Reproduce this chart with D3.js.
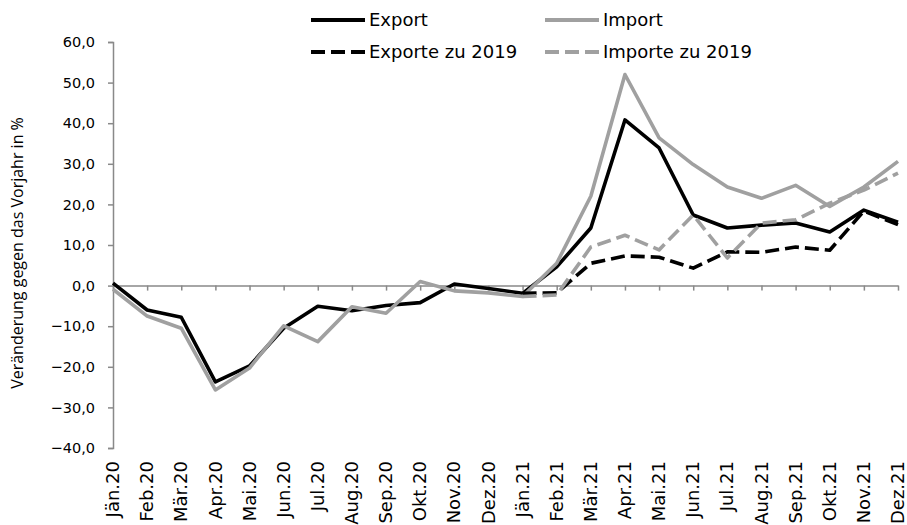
<!DOCTYPE html>
<html>
<head>
<meta charset="utf-8">
<script src="https://cdn.jsdelivr.net/npm/d3@7/dist/d3.min.js"></script>
<style>
  html, body { margin: 0; padding: 0; background: #fff; }
  svg { display: block; }
</style>
</head>
<body>
<svg id="chart" width="907" height="525"></svg>
<script>
const months = ["Jän.20","Feb.20","Mär.20","Apr.20","Mai.20","Jun.20","Jul.20","Aug.20","Sep.20","Okt.20","Nov.20","Dez.20",
                "Jän.21","Feb.21","Mär.21","Apr.21","Mai.21","Jun.21","Jul.21","Aug.21","Sep.21","Okt.21","Nov.21","Dez.21"];
const exportVals = [0.6,-6.0,-7.8,-23.7,-19.8,-10.5,-5.1,-6.2,-4.9,-4.2,0.4,-0.7,
                    -1.9,4.6,14.2,40.8,33.9,17.4,14.2,14.9,15.4,13.2,18.6,15.6];
const importVals = [-0.9,-7.5,-10.5,-25.7,-20.3,-9.9,-13.8,-5.2,-6.8,1.0,-1.3,-1.8,
                    -2.7,5.5,22.0,52.0,36.4,29.8,24.3,21.5,24.7,19.5,24.3,30.6];
const exporte2019 = [null,null,null,null,null,null,null,null,null,null,null,null,
                     -1.9,-1.8,5.5,7.3,7.0,4.3,8.3,8.2,9.5,8.7,18.4,15.0];
const importe2019 = [null,null,null,null,null,null,null,null,null,null,null,null,
                     -2.7,-2.3,9.5,12.4,8.8,17.4,6.8,15.4,16.2,20.3,23.5,27.7];
const yTicks = [-40,-30,-20,-10,0,10,20,30,40,50,60];
const seriesNames = ["Export","Import","Exporte zu 2019","Importe zu 2019"];

const BLACK = "#000000", GRAY = "#a0a0a0", AXIS = "#898989";
const series = [
  {name: seriesNames[0], values: exportVals, color: BLACK, dash: null},
  {name: seriesNames[1], values: importVals, color: GRAY, dash: null},
  {name: seriesNames[2], values: exporte2019, color: BLACK, dash: "14,6"},
  {name: seriesNames[3], values: importe2019, color: GRAY, dash: "14,6"}
];

const svg = d3.select("#chart");
const x = d3.scalePoint().domain(months).range([113, 898]);
const y = d3.scaleLinear().domain([-40, 60]).range([448, 42]);
const fmt = v => d3.format(".1f")(v).replace(".", ",").replace("-", "\u2212");

// Y axis
const yAxis = svg.append("g").attr("transform", "translate(113,0)")
  .call(d3.axisLeft(y).tickValues(yTicks).tickSize(5).tickPadding(13).tickFormat(fmt));
yAxis.select(".domain").attr("stroke", AXIS).attr("stroke-width", 1.5);
yAxis.selectAll(".tick line").attr("stroke", AXIS).attr("stroke-width", 1.5);
yAxis.selectAll(".tick text").attr("fill", "#000").style("font-family", "DejaVu Sans").style("font-size", "14.5px");

// X axis at zero
const xAxis = svg.append("g").attr("transform", `translate(0,${y(0)})`)
  .call(d3.axisBottom(x).tickSize(5).tickSizeOuter(0).tickFormat(""));
xAxis.select(".domain").attr("stroke", AXIS).attr("stroke-width", 1.5);
xAxis.selectAll(".tick line").attr("stroke", AXIS).attr("stroke-width", 1.5);

// X labels at bottom
svg.append("g").selectAll("text").data(months).join("text")
  .attr("transform", d => `translate(${x(d)},461) rotate(-90)`)
  .attr("text-anchor", "end")
  .attr("dy", "0.34em")
  .style("font-family", "DejaVu Sans")
  .style("font-size", "18px")
  .attr("fill", "#000")
  .text(d => d);

// Y title
svg.append("text")
  .attr("transform", "translate(17,253) rotate(-90)")
  .attr("text-anchor", "middle")
  .attr("dy", "0.35em")
  .style("font-family", "Open Sans")
  .style("font-size", "16px")
  .attr("fill", "#000")
  .text("Veränderung gegen das Vorjahr in %");

// Lines
const line = d3.line()
  .defined(d => d.v !== null)
  .x(d => x(d.m))
  .y(d => y(d.v));

series.forEach(s => {
  svg.append("path")
    .datum(months.map((m, i) => ({m, v: s.values[i]})))
    .attr("fill", "none")
    .attr("stroke", s.color)
    .attr("stroke-width", 3.6)
    .attr("stroke-linejoin", "round")
    .attr("stroke-dasharray", s.dash)
    .attr("d", line);
});

// Legend
const legendPos = [
  {x: 311, y: 20}, {x: 545, y: 20}, {x: 311, y: 52}, {x: 545, y: 52}
];
series.forEach((s, i) => {
  const p = legendPos[i];
  svg.append("line")
    .attr("x1", p.x).attr("x2", p.x + 54)
    .attr("y1", p.y).attr("y2", p.y)
    .attr("stroke", s.color).attr("stroke-width", 4)
    .attr("stroke-dasharray", s.dash);
  svg.append("text")
    .attr("x", p.x + 58).attr("y", p.y)
    .attr("dy", "0.35em")
    .style("font-family", "DejaVu Sans")
    .style("font-size", "18px")
    .attr("fill", "#000")
    .text(s.name);
});
</script>
</body>
</html>
